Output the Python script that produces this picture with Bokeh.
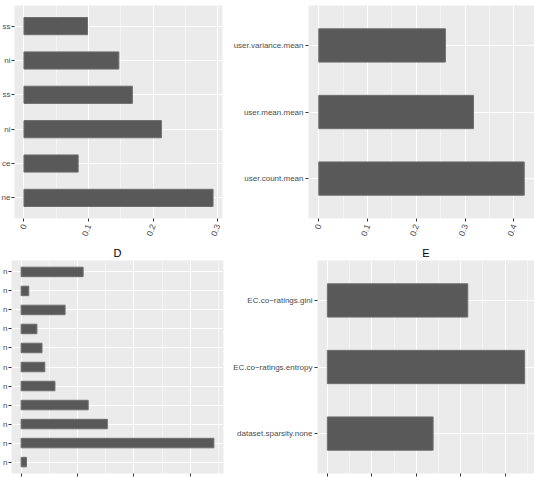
import math
from bokeh.plotting import figure
from bokeh.layouts import row, column
from bokeh.models import FixedTicker, Range1d, CustomJSTickFormatter
from bokeh.embed import file_html
from bokeh.resources import INLINE

# ---- data (labels listed top to bottom) ----
a_labels = ["ss", "ni", "ss", "ni", "ce", "ne"]
a_values = [0.0985, 0.147, 0.168, 0.213, 0.084, 0.293]
a_ticks = [0.0, 0.1, 0.2, 0.3]
a_minor = [0.05, 0.15, 0.25]

b_labels = ["user.variance.mean", "user.mean.mean", "user.count.mean"]
b_values = [0.2595, 0.317, 0.421]
b_ticks = [0.0, 0.1, 0.2, 0.3, 0.4]
b_minor = [0.05, 0.15, 0.25, 0.35]

d_labels = ["n"] * 11
d_values = [0.110, 0.0135, 0.078, 0.028, 0.037, 0.042, 0.060, 0.119, 0.153, 0.342, 0.0095]
d_ticks = [0.0, 0.1, 0.2, 0.3]
d_minor = [0.05, 0.15, 0.25, 0.35]

e_labels = ["EC.co\u2212ratings.gini", "EC.co\u2212ratings.entropy", "dataset.sparsity.none"]
e_values = [0.158, 0.222, 0.119]
e_ticks = [0.0, 0.05, 0.1, 0.15, 0.2]
e_minor = [0.025, 0.075, 0.125, 0.175, 0.225]

FONT = "Liberation Sans"
BG = "#EBEBEB"


def panel(labels, values, ticks, minor, width, height, left, right, top, bottom,
          title=None, show_x_labels=True, y_standoff=2):
    n = len(labels)
    ys = [n - i for i in range(n)]
    vmax = max(values)
    p = figure(width=width, height=height, output_backend="svg", toolbar_location=None,
               x_range=Range1d(-0.05 * vmax, 1.05 * vmax),
               y_range=Range1d(0.4, n + 0.6),
               min_border_left=left, min_border_right=right,
               min_border_top=top, min_border_bottom=bottom)
    p.background_fill_color = BG
    p.border_fill_color = "white"
    p.outline_line_color = None
    p.hbar(y=ys, right=values, left=0, height=0.5,
           fill_color="#595959", line_color="#6e6e6e", line_width=1)

    p.xaxis.ticker = FixedTicker(ticks=ticks, minor_ticks=minor)
    p.yaxis.ticker = FixedTicker(ticks=ys)
    p.yaxis.major_label_overrides = {y: lab for y, lab in zip(ys, labels)}

    for ax in (p.xaxis[0], p.yaxis[0]):
        ax.axis_line_color = None
        ax.major_tick_in = 0
        ax.major_tick_out = 3
        ax.major_tick_line_color = "#333333"
        ax.major_tick_line_width = 1
        ax.minor_tick_line_color = None
        ax.major_label_text_font = FONT
        ax.major_label_text_font_size = "8px"
        ax.major_label_text_color = "#4D4D4D"
        ax.major_label_standoff = 2
    p.yaxis.major_label_standoff = y_standoff

    if show_x_labels:
        p.xaxis.major_label_orientation = math.radians(70)
        p.xaxis.major_label_text_font_size = "8.5px"
    else:
        p.xaxis.formatter = CustomJSTickFormatter(code="return ''")
        p.xaxis.major_label_text_font_size = "0px"
        p.xaxis.major_label_standoff = 0

    p.xgrid.grid_line_color = "white"
    p.xgrid.grid_line_width = 1
    p.xgrid.minor_grid_line_color = "white"
    p.xgrid.minor_grid_line_width = 0.5
    p.ygrid.grid_line_color = "white"
    p.ygrid.grid_line_width = 1

    if title:
        p.title.text = title
        p.title.align = "center"
        p.title.text_font = FONT
        p.title.text_font_size = "11px"
        p.title.text_font_style = "normal"
        p.title.text_color = "black"
        p.title.standoff = 3
    return p


SHIFT = 12  # spare room of the left panels' axes, moved out of the window

fa = panel(a_labels, a_values, a_ticks, a_minor, 230 + SHIFT, 240, 14 + SHIFT, 8, 5, 22,
           y_standoff=1)
fb = panel(b_labels, b_values, b_ticks, b_minor, 304, 240, 77, 0, 5, 22)
fd = panel(d_labels, d_values, d_ticks, d_minor, 230 + SHIFT, 237, 11 + SHIFT, 7, 20, 4,
           title="D", show_x_labels=False, y_standoff=1)
fe = panel(e_labels, e_values, e_ticks, e_minor, 304, 237, 86, 0, 20, 4,
           title="E", show_x_labels=False)

layout = column(row(fa, fb), row(fd, fe), styles={"margin-left": f"-{SHIFT}px"})

open("out.html", "w").write(file_html(layout, INLINE))
